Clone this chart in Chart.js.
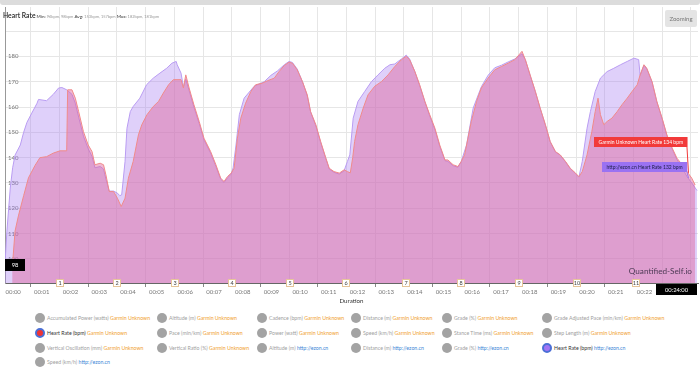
<!DOCTYPE html>
<html>
<head>
<meta charset="utf-8">
<script src="https://cdn.jsdelivr.net/npm/chart.js@4/dist/chart.umd.min.js"></script>
<style>
  body { margin: 0; background: #fff; font-family: Lato, "Open Sans", sans-serif; }
  #wrap { position: relative; width: 700px; height: 370px; overflow: hidden; }
  #chartBox { position: absolute; left: 0; top: 0; width: 700px; height: 305px; }
  #scrollbar { position: absolute; left: 0; top: 0; width: 700px; height: 5px; background: #dcdcdc; border-radius: 0 0 3px 3px; }
  #title { position: absolute; left: 3px; top: 11px; font-size: 4px; color: #999; white-space: nowrap; }
  #title b { color: #222; font-weight: 600; font-size: 6.8px; }
  #title span.k { color: #333; font-size: 4.6px; }
  #zoomBtn { position: absolute; left: 665px; top: 10px; width: 32px; height: 17px; background: #e4e4e4; border-radius: 2px;
             color: #777; font-size: 6px; line-height: 17px; text-align: center; }
  #brand { position: absolute; right: 8px; top: 266px; font-size: 8.2px; color: #4d3a55; white-space: nowrap; }
  .leg { position: absolute; height: 10px; white-space: nowrap; font-size: 5.2px; line-height: 10px; color: #a0a0a0; }
  .leg i { display: inline-block; width: 10px; height: 10px; border-radius: 50%; background: #a3a3a3; vertical-align: top; margin-right: 2px; box-sizing: border-box; }
  .leg .src { color: #f0a030; }
  .leg .web { color: #3b86d6; }
  .leg.on { color: #333; }
</style>
</head>
<body>
<div id="wrap">
  <div id="chartBox"><canvas id="hrChart"></canvas></div>
  <div id="scrollbar"></div>
  <div id="title"><b>Heart Rate</b> <span class="k">Min:</span> 96bpm, 98bpm <span class="k">Avg:</span> 153bpm, 157bpm <span class="k">Max:</span> 182bpm, 181bpm</div>
  <div id="zoomBtn">Zooming</div>
  <div id="brand">Quantified-Self.io</div>
</div>
<script>
// Garmin Unknown heart rate (seconds, bpm)
const garminSec = [21,27,34,45,55,69,79,93,107,121,135,137,146,153,160,170,180,188,194,205,212,217,224,233,241,249,257,264,274,285,
  292,303,316,327,337,348,358,374,379,384,391,401,412,422,436,447,457,464,471,479,485,492,499,509,520,530,544,555,569,579,
  590,600,607,617,628,638,645,656,666,677,684,694,705,715,722,728,733,737,744,755,765,779,793,807,821,835,845,852,863,873,
  884,894,905,915,926,932,943,953,960,967,974,981,992,1002,1016,1030,1044,1058,1072,1087,1094,1104,1115,1125,1136,1146,1157,
  1167,1178,1188,1199,1206,1213,1223,1233,1240,1246,1251,1258,1265,1275,1286,1296,1307,1317,1328,1334,1342,1348,1359,1369,
  1380,1390,1401,1411,1422,1432,1442,1449];
const garminHr = [96,111,117,125,132,137,140,140.4,141.8,142.7,142.7,166.8,166.8,163.5,158.2,150.3,145,142.4,137.2,137.8,137.2,
  133.2,126.6,126.6,124,120.7,124,131.9,138.5,149,153,157,160.2,162.2,165.5,168.8,170.8,170.8,167.5,172.7,167.5,160.9,154.3,
  147.7,142.4,137.2,131.9,130.6,132.5,133.9,135.8,147.7,155.6,161.5,166.1,168.8,169.4,170.4,171.4,174,176.4,177.7,177.3,174.7,
  170,164.8,158.2,153,146.4,139.8,135.8,134.5,133.9,135.2,134.5,134,140,146.4,153,159.6,164.8,168.2,170,172.7,176,178.7,180,
  178.7,174,168.8,162.2,157,151.6,145,139.1,139.1,137.2,136.5,138.5,141.1,147.7,154.3,162.2,167.5,171.4,174.7,176,177.3,178.7,
  182,178.7,172.7,166.1,159.6,153,146.4,142.4,141.1,138.5,135.8,133.9,132.5,134.5,141.1,150.3,158.2,163.5,157,153,154.3,155.6,
  158.2,160.9,163.5,166.1,168.8,172.7,176.7,175.3,170,162.2,155.6,149,143.8,139.8,137.2,134.5,131.9,129.2];

// http://ezon.cn heart rate (seconds, bpm)
const ezonSec = [6,10,17,22,27,38,45,52,62,73,76,93,107,118,125,135,146,153,160,170,180,188,194,205,212,217,224,233,241,246,250,
  257,261,268,274,288,302,316,330,344,355,364,366,374,379,384,391,401,412,422,436,447,457,464,471,479,483,489,496,506,527,548,
  562,576,590,600,607,617,628,638,645,656,666,677,684,694,705,715,722,727,734,744,758,772,786,800,811,821,835,845,852,863,873,
  884,894,905,915,926,932,943,953,960,971,985,1002,1016,1030,1044,1058,1072,1087,1094,1104,1115,1125,1136,1146,1157,1167,1178,
  1188,1199,1206,1213,1223,1230,1240,1251,1265,1279,1293,1307,1321,1331,1334,1342,1348,1359,1369,1380,1390,1401,1411,1422,
  1432,1442,1453];
const ezonHr = [98,111,128,136,141,145,150,154,157.6,161.5,163,162.5,165,167.5,167.7,166.8,165,161.5,156,148.5,143.5,140.5,136,
  136.5,135.5,131.5,126.8,126.8,126,125,125.3,138.5,151.6,158.2,160.2,163.5,168.8,171.4,173.4,175.3,177.3,178,176.7,173.4,168,
  171,166.5,160,153.5,147,141.8,136.5,131.5,130.2,132,133.5,136,145,157,163.5,168.2,170,172.5,174.3,176.7,178,177.6,175,170,
  164.5,158,152.5,146,139.5,135.5,134.2,133.5,134.8,138.5,141.1,155.6,162.2,166.1,170,172.7,175.3,176.7,177,179,180.5,179,174,
  168.5,162,156.5,151,144.5,138.8,138.5,136.8,136.2,138.5,145,159.6,168,172.5,175.5,176.5,177.8,179,181,178.7,172.5,166,159.4,
  152.8,146.2,142.2,141,138.3,135.6,133.7,132.3,138.5,151.6,158.2,166.1,171.4,174,175.3,176.7,178,179.3,178.7,172.5,176.5,175,
  169.8,162,155.3,148.7,143.5,139.2,136,132.5,130,127];

const lapSec = [120,240,362,481,602,720,844,959,1080,1201,1326];
const lapLabels = ["1","2","3","4","5","6","7","8","9","10","11"];
const minuteTicks = [0,60,120,180,240,300,360,420,480,540,600,660,720,780,840,900,960,1020,1080,1140,1200,1260,1320,1380,1440];
const hrTicks = [100,110,120,130,140,150,160,170,180,190];

// cursor state shown in the picture
const cursorSec = 1433;
const cursorHr = [134, 132];
const cursorYValue = 97.6;

// legend entries: [metric, source, state]
const legendItems = [
  ["Accumulated Power (watts)", "Garmin Unknown", ""], ["Altitude (m)", "Garmin Unknown", ""], ["Cadence (bpm)", "Garmin Unknown", ""],
  ["Distance (m)", "Garmin Unknown", ""], ["Grade (%)", "Garmin Unknown", ""], ["Grade Adjusted Pace (min/km)", "Garmin Unknown", ""],
  ["Heart Rate (bpm)", "Garmin Unknown", "red"], ["Pace (min/km)", "Garmin Unknown", ""], ["Power (watt)", "Garmin Unknown", ""],
  ["Speed (km/h)", "Garmin Unknown", ""], ["Stance Time (ms)", "Garmin Unknown", ""], ["Step Length (m)", "Garmin Unknown", ""],
  ["Vertical Oscillation (mm)", "Garmin Unknown", ""], ["Vertical Ratio (%)", "Garmin Unknown", ""], ["Altitude (m)", "http://ezon.cn", ""],
  ["Distance (m)", "http://ezon.cn", ""], ["Grade (%)", "http://ezon.cn", ""], ["Heart Rate (bpm)", "http://ezon.cn", "purple"],
  ["Speed (km/h)", "http://ezon.cn", ""]
];
const legendColX = [35, 157, 257, 351, 442, 542];
const legendRowY = [313, 328, 343, 357];

const wrap = document.getElementById("wrap");
legendItems.forEach(function (item, i) {
  const d = document.createElement("div");
  d.className = "leg" + (item[2] ? " on" : "");
  d.style.left = legendColX[i % 6] + "px";
  d.style.top = legendRowY[Math.floor(i / 6)] + "px";
  const dot = document.createElement("i");
  if (item[2] === "red") { dot.style.background = "#f03434"; dot.style.border = "2px solid #4b6fd6"; }
  if (item[2] === "purple") { dot.style.background = "#a274f4"; dot.style.border = "2px solid #4b6fd6"; }
  d.appendChild(dot);
  d.appendChild(document.createTextNode(item[0] + " "));
  const s = document.createElement("span");
  s.className = item[1] === "http://ezon.cn" ? "web" : "src";
  s.textContent = item[1];
  d.appendChild(s);
  wrap.appendChild(d);
});

function pad2(n) { return (n < 10 ? "0" : "") + n; }

function drawBox(ctx, text, x, y, w, h, bg, fg) {
  ctx.fillStyle = bg;
  ctx.fillRect(x, y, w, h);
  ctx.fillStyle = fg;
  ctx.textAlign = "center";
  ctx.textBaseline = "middle";
  ctx.fillText(text, x + w / 2, y + h / 2 + 0.5);
}

const overlayPlugin = {
  id: "overlay",
  afterDraw(chart) {
    const ctx = chart.ctx;
    const xs = chart.scales.x, ys = chart.scales.y;
    const area = chart.chartArea;
    ctx.save();

    // lap markers on the axis
    ctx.font = "5.5px Lato";
    lapSec.forEach(function (s, i) {
      const px = Math.round(xs.getPixelForValue(s));
      ctx.fillStyle = "#fff";
      ctx.fillRect(px - 4, area.bottom - 4, 8, 8);
      ctx.strokeStyle = "#e6c59a";
      ctx.lineWidth = 1;
      ctx.strokeRect(px - 3.5, area.bottom - 3.5, 7, 7);
      ctx.fillStyle = "#444";
      ctx.textAlign = "center";
      ctx.textBaseline = "middle";
      ctx.fillText(lapLabels[i], px, area.bottom + 0.5);
    });

    // cursor tooltips
    const cx = xs.getPixelForValue(cursorSec);
    const texts = ["Garmin Unknown Heart Rate " + cursorHr[0] + " bpm", "http://ezon.cn Heart Rate " + cursorHr[1] + " bpm"];
    const colors = [["#f23a3a", "#fff"], ["#9a72f2", "#1d1f4a"]];
    const offsets = [36, 16];
    ctx.font = "5px Lato";
    texts.forEach(function (t, i) {
      const py = ys.getPixelForValue(cursorHr[i]);
      const w = ctx.measureText(t).width + 9;
      const top = Math.round(py - offsets[i]);
      ctx.strokeStyle = colors[i][0];
      ctx.lineWidth = 1;
      ctx.beginPath();
      ctx.moveTo(cx - 0.5, top + 10);
      ctx.lineTo(cx + 1, py);
      ctx.stroke();
      drawBox(ctx, t, Math.round(cx - w), top, w, 10, colors[i][0], colors[i][1]);
    });

    // axis cursor labels
    ctx.font = "5.8px Lato";
    const vy = ys.getPixelForValue(cursorYValue);
    drawBox(ctx, String(Math.round(cursorYValue)), area.left, Math.round(vy - 6), 20, 12, "#000", "#fff");
    const mins = Math.floor(cursorSec / 60 + 0.5);
    drawBox(ctx, "00:" + pad2(mins) + ":00", 656, area.bottom + 1, 41, 11, "#000", "#fff");
    ctx.restore();
  }
};

function gridCol(c) {
  return function (ctx) { return ctx.tick && ctx.tick.value < 6 ? "rgba(0,0,0,0)" : c; };
}

new Chart(document.getElementById("hrChart"), {
  type: "line",
  data: {
    datasets: [
      {
        label: "Garmin Unknown Heart Rate",
        data: garminSec.map(function (s, i) { return { x: s, y: garminHr[i] }; }),
        borderColor: "#f08a8a",
        backgroundColor: "rgba(222,100,158,0.46)",
        borderWidth: 1,
        pointRadius: 0,
        fill: "start",
        tension: 0
      },
      {
        label: "http://ezon.cn Heart Rate",
        data: ezonSec.map(function (s, i) { return { x: s, y: ezonHr[i] }; }),
        borderColor: "#b99cf2",
        backgroundColor: "rgba(163,120,240,0.35)",
        borderWidth: 1,
        pointRadius: 0,
        fill: "start",
        tension: 0
      }
    ]
  },
  options: {
    responsive: true,
    maintainAspectRatio: false,
    animation: false,
    layout: { padding: { top: 7, left: 5, right: 2, bottom: 0 } },
    plugins: { legend: { display: false }, tooltip: { enabled: false } },
    scales: {
      x: {
        type: "linear",
        min: 6,
        max: 1455,
        afterBuildTicks: function (scale) { scale.ticks = minuteTicks.map(function (v) { return { value: v }; }); },
        afterFit: function (scale) { scale.height = 22; scale.paddingLeft = 0; scale.paddingRight = 0; },
        grid: { color: gridCol("#e6e6e6"), tickColor: gridCol("#888"), tickLength: 4 },
        border: { color: "#666" },
        ticks: {
          autoSkip: false,
          maxRotation: 0,
          labelOffset: 11,
          padding: 1,
          color: "#777",
          font: { size: 6, family: "Lato" },
          callback: function (v) { return v >= 1440 ? "" : "00:" + pad2(Math.round(v / 60)); }
        },
        title: { display: true, text: "Duration", color: "#333", font: { size: 6.2, family: "Lato" }, padding: 0 }
      },
      y: {
        min: 90.5,
        max: 199.5,
        afterBuildTicks: function (scale) { scale.ticks = hrTicks.map(function (v) { return { value: v }; }); },
        afterFit: function (scale) { scale.width = 0; scale.paddingTop = 0; scale.paddingBottom = 0; },
        grid: { color: "#e6e6e6", drawTicks: false },
        border: { color: "#999" },
        ticks: {
          mirror: true,
          padding: 3,
          color: "#777",
          font: { size: 6, family: "Lato" },
          callback: function (v) { return v >= 190 ? "" : v; }
        }
      }
    }
  },
  plugins: [overlayPlugin]
});
</script>
</body>
</html>
